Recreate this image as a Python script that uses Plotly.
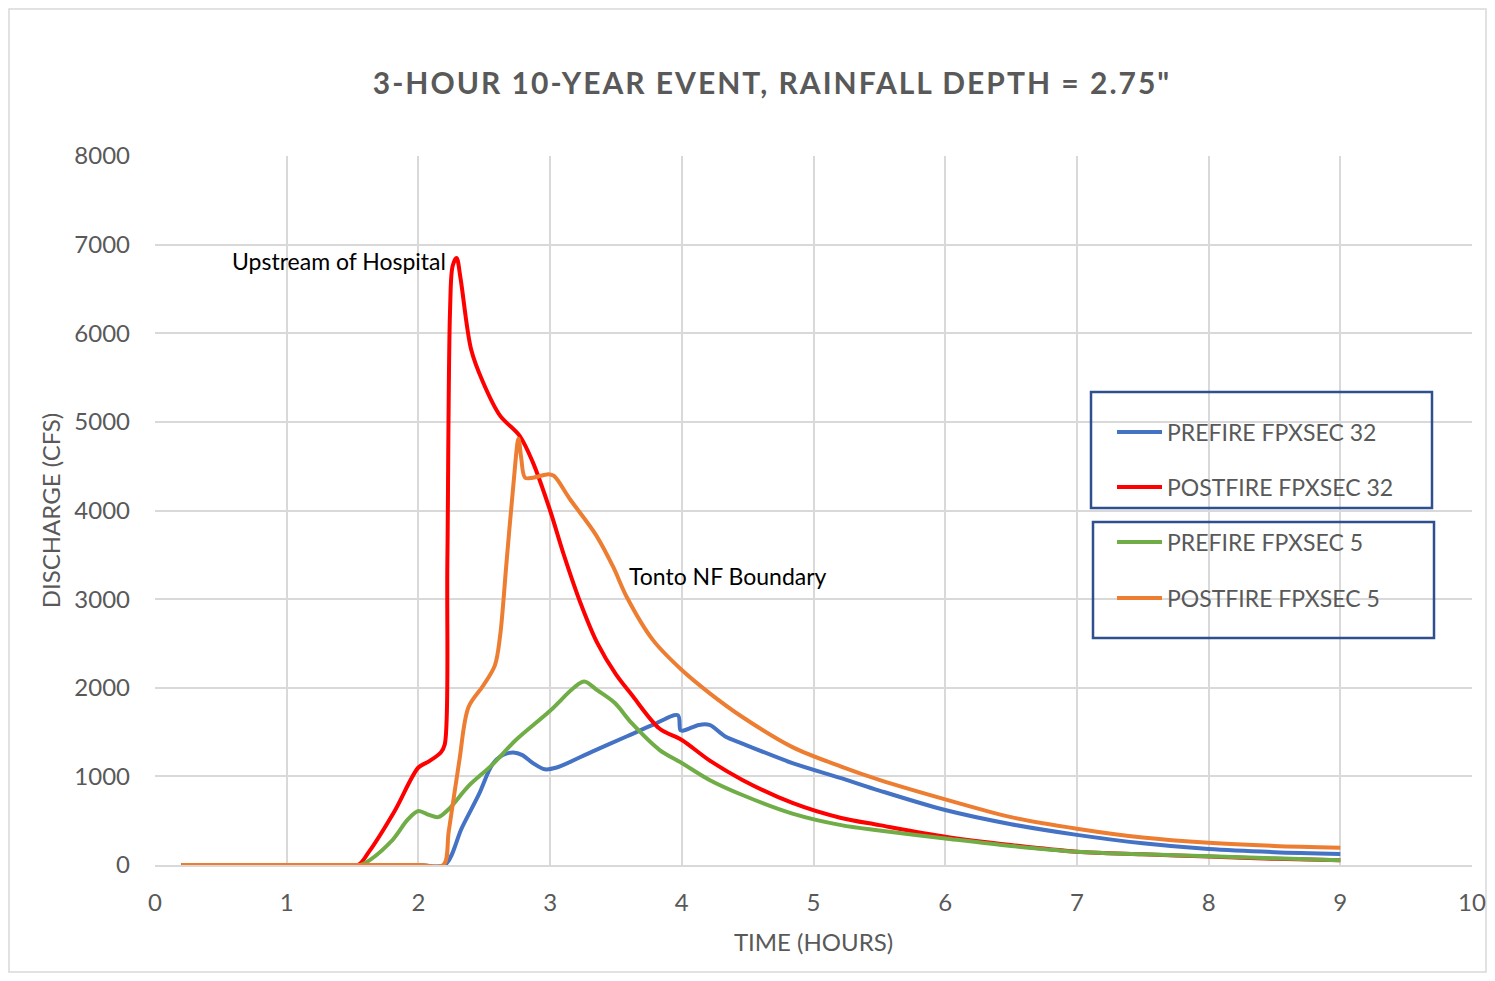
import plotly.graph_objects as go

# ---- data ----
t_post32 = [0.2, 1.0, 1.54, 1.62, 1.82, 2.0, 2.08, 2.17, 2.2, 2.22, 2.24, 2.26, 2.29, 2.32, 2.40, 2.49,
            2.62, 2.77, 2.87, 3.0, 3.1, 3.23, 3.36, 3.5, 3.62, 3.83, 4.0, 4.21, 4.46, 4.84, 5.21, 5.5,
            6.0, 6.5, 7.0, 7.5, 8.0, 8.5, 9.0]
q_post32 = [0, 0, 0, 140, 610, 1100, 1170, 1270, 1360, 3430, 6240, 6760, 6850, 6620, 5820, 5450,
            5070, 4840, 4540, 4000, 3520, 2960, 2500, 2150, 1920, 1540, 1410, 1180, 960, 700, 530, 450,
            320, 225, 150, 120, 95, 70, 55]

t_post5 = [0.2, 1.0, 2.0, 2.19, 2.23, 2.31, 2.38, 2.49, 2.58, 2.62, 2.67, 2.72, 2.76, 2.78, 2.81, 2.87,
           2.99, 3.03, 3.15, 3.35, 3.48, 3.58, 3.78, 4.0, 4.21, 4.46, 4.84, 5.21, 5.5, 6.0, 6.5,
           7.0, 7.5, 8.0, 8.5, 9.0]
q_post5 = [0, 0, 0, 0, 375, 1170, 1780, 2020, 2250, 2580, 3430, 4270, 4810, 4600, 4370, 4370,
           4410, 4390, 4130, 3720, 3360, 3030, 2540, 2200, 1940, 1670, 1330, 1110, 960, 740, 540,
           410, 310, 250, 215, 195]

t_pre5 = [0.2, 1.0, 1.56, 1.79, 1.92, 2.0, 2.08, 2.15, 2.23, 2.38, 2.56, 2.74, 3.0, 3.18, 3.26, 3.36,
          3.49, 3.62, 3.83, 4.0, 4.21, 4.46, 4.84, 5.21, 5.5, 6.0, 6.5, 7.0, 7.5, 8.0, 8.5, 9.0]
q_pre5 = [0, 0, 0, 260, 515, 610, 565, 540, 630, 890, 1130, 1410, 1740, 2000, 2070, 1970,
          1830, 1600, 1300, 1150, 960, 790, 580, 450, 390, 300, 215, 150, 120, 100, 75, 55]

t_pre32 = [0.2, 1.0, 2.0, 2.2, 2.33, 2.46, 2.56, 2.64, 2.72, 2.79, 2.87, 2.96, 3.05, 3.32, 3.58, 3.78,
           3.97, 3.99, 4.02, 4.13, 4.21, 4.33, 4.46, 4.84, 5.21, 5.5, 6.0, 6.5, 7.0, 7.5, 8.0,
           8.5, 9.0]
q_pre32 = [0, 0, 0, 0, 420, 800, 1130, 1240, 1270, 1240, 1150, 1080, 1100, 1280, 1450, 1580,
           1690, 1520, 1520, 1580, 1580, 1450, 1370, 1150, 980, 840, 620, 460, 340, 245, 180,
           145, 125]

series_names = ["PREFIRE FPXSEC 32", "POSTFIRE FPXSEC 32", "PREFIRE FPXSEC 5", "POSTFIRE FPXSEC 5"]
series_colors = ["#4472C4", "#FF0000", "#70AD47", "#ED7D31"]
x_ticks = [0, 1, 2, 3, 4, 5, 6, 7, 8, 9, 10]
y_ticks = [0, 1000, 2000, 3000, 4000, 5000, 6000, 7000, 8000]

FONT = "Lato"
GREY = "#595959"

fig = go.Figure()
series = [(t_pre32, q_pre32), (t_post32, q_post32), (t_pre5, q_pre5), (t_post5, q_post5)]
for i, (tx, qy) in enumerate(series):
    fig.add_trace(go.Scatter(
        x=tx, y=qy, mode="lines", name=series_names[i], showlegend=False,
        line=dict(color=series_colors[i], width=4, shape="spline", smoothing=0.9),
    ))

# page has an 8px body margin on every side; size figure so nothing overflows the window
OFF = 8
W, H = 1495 - 2 * OFF, 981 - 2 * OFF
L, R, T, B = 147, 15, 148, 108
PW, PH = W - L - R, H - T - B


def px(xp):  # reference-image pixel -> paper x
    return (xp - OFF - L) / PW


def py(yp):  # reference-image pixel -> paper y
    return (H - B - (yp - OFF)) / PH


fig.update_layout(
    width=W, height=H,
    margin=dict(l=L, r=R, t=T, b=B, autoexpand=False),
    paper_bgcolor="white", plot_bgcolor="white",
    font=dict(family=FONT, color=GREY, size=22),
    showlegend=False,
    title=dict(
        text="<b>3-HOUR 10-YEAR EVENT, RAINFALL DEPTH = 2.75\"</b>",
        x=px(772), xref="paper", xanchor="center",
        y=1 - (83 - OFF) / H, yref="container", yanchor="middle",
        font=dict(family=FONT, size=30, color=GREY),
    ),
    xaxis=dict(
        range=[0, 10], tickvals=x_ticks, ticktext=[str(v) for v in x_ticks],
        showgrid=True, gridcolor="#D9D9D9", gridwidth=1.5,
        zeroline=False, showline=True, linecolor="#D9D9D9", linewidth=1.5,
        ticks="", ticklabelstandoff=15, automargin=False,
        tickfont=dict(family=FONT, size=24, color=GREY),
        title=dict(text="TIME (HOURS)", font=dict(family=FONT, size=24, color=GREY), standoff=20),
        fixedrange=True,
    ),
    yaxis=dict(
        range=[0, 8000], tickvals=y_ticks, ticktext=[str(v) for v in y_ticks],
        showgrid=True, gridcolor="#D9D9D9", gridwidth=1.5,
        zeroline=False, showline=False,
        ticks="", ticklabelstandoff=24, automargin=False,
        tickfont=dict(family=FONT, size=24, color=GREY),
        title=dict(text="DISCHARGE (CFS)", font=dict(family=FONT, size=24, color=GREY), standoff=6),
        fixedrange=True,
    ),
)

# labels on chart
fig.add_annotation(x=1.40, y=6817, xref="x", yref="y", text="Upstream of Hospital", showarrow=False,
                   font=dict(family=FONT, size=23, color="#000000"))
fig.add_annotation(x=4.35, y=3262, xref="x", yref="y", text="Tonto NF Boundary", showarrow=False,
                   font=dict(family=FONT, size=23, color="#000000"))

# hand-drawn legend (two boxed groups)
legend_rows_y = [432, 487, 542, 598]
for i, yy in enumerate(legend_rows_y):
    fig.add_shape(type="line", xref="paper", yref="paper",
                  x0=px(1117), x1=px(1162), y0=py(yy), y1=py(yy),
                  line=dict(color=series_colors[i], width=4))
    fig.add_annotation(xref="paper", yref="paper", x=px(1165), y=py(yy), xanchor="left", yanchor="middle",
                       text=series_names[i], showarrow=False,
                       font=dict(family=FONT, size=23, color=GREY))

fig.add_shape(type="rect", xref="paper", yref="paper",
              x0=px(1091), x1=px(1432), y0=py(508), y1=py(392),
              line=dict(color="#2F4F8F", width=2.5), fillcolor="rgba(0,0,0,0)")
fig.add_shape(type="rect", xref="paper", yref="paper",
              x0=px(1093), x1=px(1434), y0=py(638), y1=py(522),
              line=dict(color="#2F4F8F", width=2.5), fillcolor="rgba(0,0,0,0)")

# outer chart border
fig.add_shape(type="rect", xref="paper", yref="paper",
              x0=px(9), x1=px(1486), y0=py(972), y1=py(9),
              line=dict(color="#D9D9D9", width=1.5), fillcolor="rgba(0,0,0,0)", layer="below")

post = "document.querySelectorAll('.gtitle').forEach(function(e){e.style.letterSpacing='2px';});"
fig.write_html("out.html", post_script=post)
